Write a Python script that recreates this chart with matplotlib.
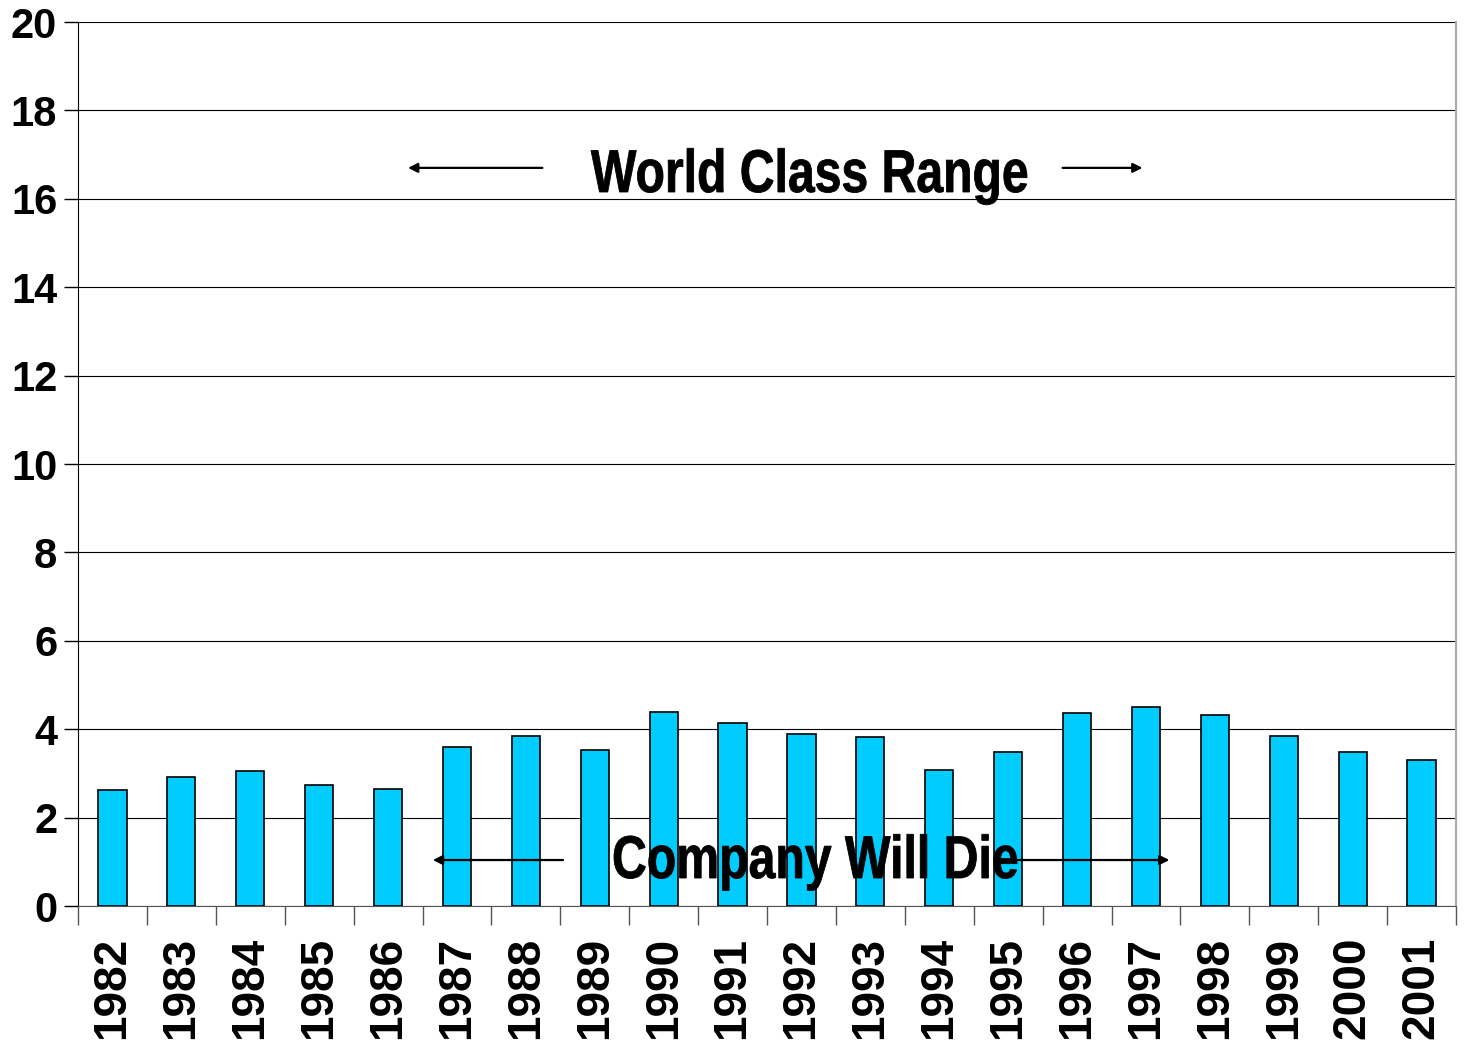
import matplotlib.pyplot as plt
import matplotlib
import numpy
from matplotlib.textpath import TextPath
from matplotlib.patches import PathPatch
from matplotlib.font_manager import FontProperties
from matplotlib.transforms import Affine2D, IdentityTransform

years = ["1982", "1983", "1984", "1985", "1986", "1987", "1988", "1989", "1990", "1991",
         "1992", "1993", "1994", "1995", "1996", "1997", "1998", "1999", "2000", "2001"]
values = [2.62, 2.92, 3.05, 2.74, 2.65, 3.60, 3.85, 3.53, 4.39, 4.14,
          3.89, 3.82, 3.08, 3.48, 4.37, 4.50, 4.32, 3.85, 3.48, 3.30]
y_ticks = [0, 2, 4, 6, 8, 10, 12, 14, 16, 18, 20]

matplotlib.rcParams["font.family"] = ["Liberation Sans", "DejaVu Sans"]

W, H = 1464, 1040
fig = plt.figure(figsize=(W / 100, H / 100), dpi=100)
ax = fig.add_axes([78 / W, 134 / H, 1378 / W, 884 / H])

x = numpy.arange(len(years))
ax.bar(x, values, width=0.41, color="#00CCFF", edgecolor="black", linewidth=1.2, zorder=3)

ax.set_xlim(-0.5, len(years) - 0.5)
ax.set_ylim(0, 20)
ax.set_yticks(y_ticks)
ax.set_yticklabels([str(t) for t in y_ticks], fontsize=30, fontweight="bold")
ax.yaxis.grid(True, color="black", linewidth=0.8, zorder=0)
ax.set_axisbelow(True)

# category ticks sit between bars, labels at bar centres
ax.set_xticks(numpy.arange(len(years) + 1) - 0.5)
ax.set_xticklabels([])
ax.tick_params(axis="x", which="major", length=14, width=1, color="#555555", direction="out")
ax.set_xticks(x, minor=True)
ax.set_xticklabels(years, minor=True, rotation=90, fontsize=33, fontweight="bold", va="top")
ax.tick_params(axis="x", which="minor", length=0, pad=22)
ax.tick_params(axis="y", length=10, width=1, direction="out", pad=5)

ax.spines["top"].set_visible(False)
ax.spines["right"].set_color("#aaaaaa")
ax.spines["right"].set_linewidth(1.5)
ax.spines["bottom"].set_color("#555555")
ax.spines["left"].set_color("black")

arrow = dict(arrowstyle="-|>", color="black", lw=1.6, mutation_scale=14)
ax.annotate("", xy=(4.25, 16.7), xytext=(6.28, 16.7), arrowprops=arrow, zorder=5)
ax.annotate("", xy=(14.99, 16.7), xytext=(13.75, 16.7), arrowprops=arrow, zorder=5)
ax.annotate("", xy=(4.61, 1.04), xytext=(6.58, 1.04), arrowprops=arrow, zorder=5)
ax.annotate("", xy=(15.38, 1.04), xytext=(13.1, 1.04), arrowprops=arrow, zorder=5)


def condensed_text(s, left, right, cap_top, baseline):
    # squeezed bold text, placed by pixel box (measured from the top)
    fp = FontProperties(family="Liberation Sans", weight="bold")
    tp = TextPath((0, 0), s, size=100, prop=fp)
    ext = tp.get_extents()
    sx = (right - left) / ext.width
    sy = (baseline - cap_top) / 72.9
    tr = Affine2D().translate(-ext.x0, 0).scale(sx, sy).translate(left, H - baseline)
    fig.patches.append(PathPatch(tr.transform_path(tp), facecolor="black", edgecolor="black",
                                 linewidth=0.6, transform=IdentityTransform(), zorder=6))


condensed_text("World Class Range", 591, 1027, 148, 192)
condensed_text("Company Will Die", 614, 1017, 834, 878)

fig.savefig("out.png", dpi=100)
